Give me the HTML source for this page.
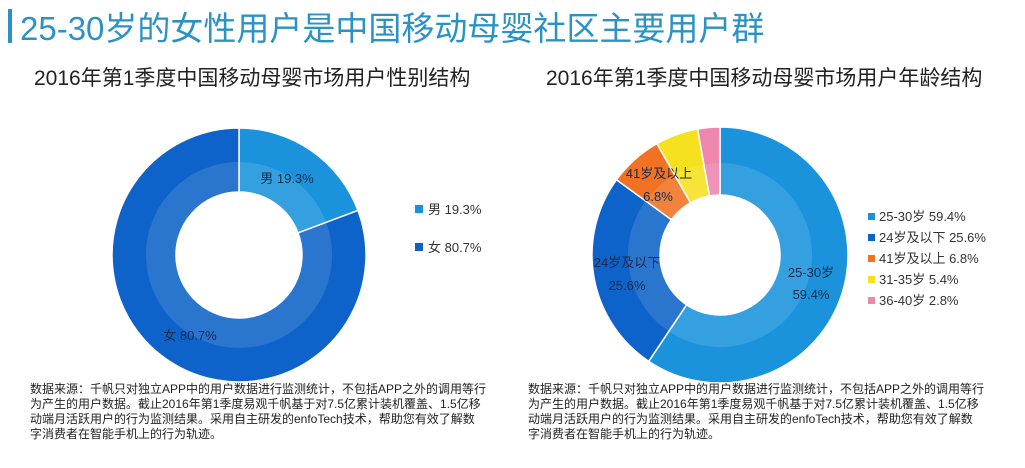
<!DOCTYPE html>
<html><head><meta charset="utf-8">
<style>
body{margin:0;width:1025px;height:468px;background:#fff;position:relative;overflow:hidden;font-family:"Liberation Sans","Noto Sans CJK SC",sans-serif;}
.abs{position:absolute;}
.foot{font-size:12px;line-height:15px;color:#222;white-space:nowrap;}
</style></head><body>
<div class="abs" style="left:8px;top:9px;width:4px;height:34px;background:#2a93c3"></div>
<div class="abs" style="left:20px;top:2px;font-size:33px;color:#2a93c3;white-space:nowrap">25-30岁的女性用户是中国移动母婴社区主要用户群</div>
<div class="abs" style="left:34px;top:62px;font-size:21px;color:#222;white-space:nowrap">2016年第1季度中国移动母婴市场用户性别结构</div>
<div class="abs" style="left:546px;top:62px;font-size:21px;color:#222;white-space:nowrap">2016年第1季度中国移动母婴市场用户年龄结构</div>
<svg class="abs" style="left:0;top:0" width="1025" height="468" id="svg"></svg>
<div class="abs foot" style="left:30px;top:382px">数据来源：千帆只对独立APP中的用户数据进行监测统计，不包括APP之外的调用等行<br>为产生的用户数据。截止2016年第1季度易观千帆基于对7.5亿累计装机覆盖、1.5亿移<br>动端月活跃用户的行为监测结果。采用自主研发的enfoTech技术，帮助您有效了解数<br>字消费者在智能手机上的行为轨迹。</div>
<div class="abs foot" style="left:528px;top:382px">数据来源：千帆只对独立APP中的用户数据进行监测统计，不包括APP之外的调用等行<br>为产生的用户数据。截止2016年第1季度易观千帆基于对7.5亿累计装机覆盖、1.5亿移<br>动端月活跃用户的行为监测结果。采用自主研发的enfoTech技术，帮助您有效了解数<br>字消费者在智能手机上的行为轨迹。</div>
<script>
const genderLabels=["男","女"];
const genderValues=[19.3,80.7];
const genderColors=["#1a93dc","#0d63c9"];
const ageLabels=["25-30岁","24岁及以下","41岁及以上","31-35岁","36-40岁"];
const ageValues=[59.4,25.6,6.8,5.4,2.8];
const ageColors=["#1a93dc","#0d63c9","#f07222","#f5e11e","#ee86ad"];
const NS="http://www.w3.org/2000/svg";
const svg=document.getElementById('svg');
function mk(t,a){const e=document.createElementNS(NS,t);for(const k in a)e.setAttribute(k,a[k]);svg.appendChild(e);return e;}
function arc(cx,cy,r0,r1,a0,a1){
 const p=(r,a)=>[cx+r*Math.sin(a),cy-r*Math.cos(a)];
 const l=(a1-a0)>Math.PI?1:0;
 const [x0,y0]=p(r1,a0),[x1,y1]=p(r1,a1),[x2,y2]=p(r0,a1),[x3,y3]=p(r0,a0);
 return `M${x0} ${y0}A${r1} ${r1} 0 ${l} 1 ${x1} ${y1}L${x2} ${y2}A${r0} ${r0} 0 ${l} 0 ${x3} ${y3}Z`;
}
function donut(prefix,vals,cols,cx,cy,R,r,band){
 const tot=vals.reduce((a,b)=>a+b,0);let a=0;const mids=[];
 vals.forEach((v,i)=>{const a1=a+v/tot*2*Math.PI;
  const s=mk('path',{d:arc(cx,cy,r,R,a,a1),fill:cols[i],stroke:'#fff','stroke-width':1.5});
  
  
  const b=mk('path',{d:arc(cx,cy,r,band,a,a1),fill:'#fff','fill-opacity':0.12});
  
  
  mids.push((a+a1)/2);a=a1;});
 return mids;
}
function txt(x,y,s,name,size,fill,anchor){const t=mk('text',{x:x,y:y,'font-size':size,fill:fill,'text-anchor':anchor||'start','font-family':'Liberation Sans, Noto Sans CJK SC, sans-serif'});t.textContent=s;
 
 return t;}
donut('gender',genderValues,genderColors,239,255,127,63,93);
genderLabels.forEach((l,i)=>{
 txt(i==0?287:190,i==0?183:340,l+' '+genderValues[i]+'%','gender-slice-label-'+i,13,'#1a2a4a','middle');
 const r=mk('rect',{x:415,y:205+i*38,width:8,height:8,fill:genderColors[i]});
 
 
 txt(428,214+i*38,l+' '+genderValues[i]+'%','gender-legend-entry-'+i,13,'#333');
});
donut('age',ageValues,ageColors,720,255,128,60,92);
const aLab=[[811,277,811,299],[627,267,627,290],[659,178,658,201]];
aLab.forEach((p,i)=>{
 txt(p[0],p[1],ageLabels[i],'age-slice-label-'+i,13,'#1a2a4a','middle');
 txt(p[2],p[3],ageValues[i]+'%','age-slice-value-'+i,13,'#1a2a4a','middle');
});
ageLabels.forEach((l,i)=>{
 const r=mk('rect',{x:868,y:213+i*21,width:7,height:7,fill:ageColors[i]});
 
 
 txt(879,221+i*21,l+' '+ageValues[i]+'%','age-legend-entry-'+i,13,'#333');
});
</script>
</body></html>
